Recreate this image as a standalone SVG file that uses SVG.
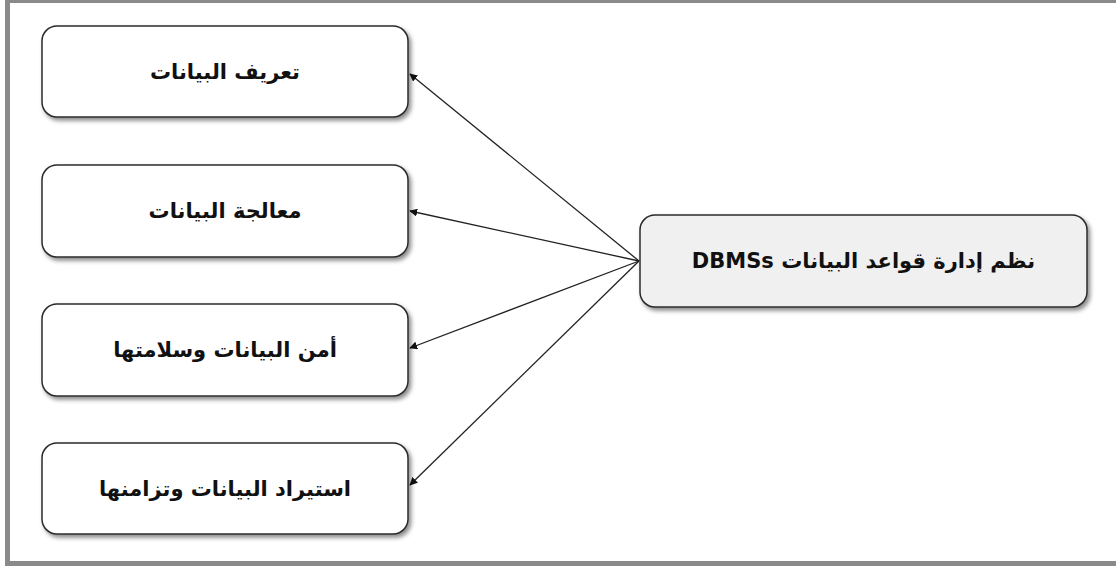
<svg xmlns="http://www.w3.org/2000/svg" width="1116" height="568" viewBox="0 0 1116 568">
  <style>
    .box { fill: #ffffff; stroke: #2b2b2b; stroke-width: 1.5; filter: url(#shadow); }
    .hub { fill: #f0f0f0; stroke: #2b2b2b; stroke-width: 1.5; filter: url(#shadow); }
    .label { font-family: "DejaVu Sans", "Noto Sans", sans-serif; font-weight: bold; font-size: 21px; fill: #111; text-anchor: middle; dominant-baseline: central; direction: rtl; unicode-bidi: embed; }
    .hub-label { font-size: 21px; }
    .link { stroke: #222; stroke-width: 1.3; fill: none; marker-end: url(#arrow); }
  </style>
  <defs>
    <filter id="shadow" x="-10%" y="-20%" width="125%" height="150%">
      <feDropShadow dx="2.5" dy="3" stdDeviation="2" flood-color="#000" flood-opacity="0.45"/>
    </filter>
    <marker id="arrow" viewBox="0 0 10 10" refX="9" refY="5" markerWidth="8" markerHeight="8" markerUnits="userSpaceOnUse" orient="auto">
      <path d="M0,0 L10,5 L0,10 z" fill="#111"/>
    </marker>
  </defs>

  <rect width="1116" height="568" fill="#ffffff"/>
  <!-- outer frame -->
  <rect x="7.5" y="0.5" width="1120" height="563" fill="none" stroke="#8a8a8a" stroke-width="5"/>

  <g id="connectors">
    <line class="link" x1="639" y1="261" x2="410" y2="74"/>
    <line class="link" x1="639" y1="261" x2="410" y2="211"/>
    <line class="link" x1="639" y1="261" x2="410" y2="348"/>
    <line class="link" x1="639" y1="261" x2="410" y2="485"/>
  </g>

  <g id="node-dbms">
    <rect class="hub" x="640" y="215" width="447" height="92" rx="15"/>
    <text class="label hub-label" x="863.5" y="261">نظم إدارة قواعد البيانات DBMSs</text>
  </g>

  <g id="node-definition">
    <rect class="box" x="42" y="26" width="366" height="91" rx="15"/>
    <text class="label" x="225" y="71.5">تعريف البيانات</text>
  </g>

  <g id="node-processing">
    <rect class="box" x="42" y="165" width="366" height="92" rx="15"/>
    <text class="label" x="225" y="211">معالجة البيانات</text>
  </g>

  <g id="node-security">
    <rect class="box" x="42" y="304" width="366" height="92" rx="15"/>
    <text class="label" x="225" y="350">أمن البيانات وسلامتها</text>
  </g>

  <g id="node-recovery">
    <rect class="box" x="42" y="443" width="366" height="91" rx="15"/>
    <text class="label" x="225" y="488.5">استيراد البيانات وتزامنها</text>
  </g>
</svg>
